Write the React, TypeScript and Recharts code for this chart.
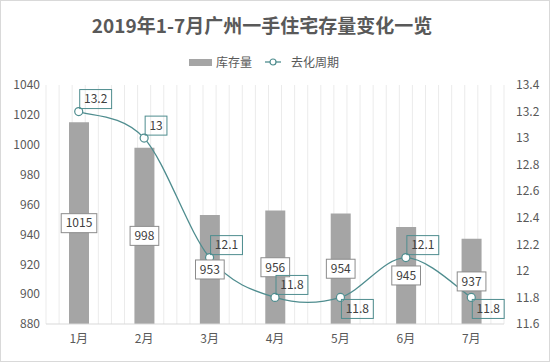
import React from 'react';
import { ComposedChart, Bar, Line, XAxis, YAxis, CartesianGrid, LabelList } from 'recharts';

const months = ['1月', '2月', '3月', '4月', '5月', '6月', '7月'];
const inventory = [1015, 998, 953, 956, 954, 945, 937];
const cycle = [13.2, 13, 12.1, 11.8, 11.8, 12.1, 11.8];
const leftTicks = [880, 900, 920, 940, 960, 980, 1000, 1020, 1040];
const rightTicks = [11.6, 11.8, 12, 12.2, 12.4, 12.6, 12.8, 13, 13.2, 13.4];

const data = months.map((m, i) => ({ month: m, inventory: inventory[i], cycle: cycle[i] }));

const FONT = '"Noto Sans CJK SC", "Noto Sans", sans-serif';
const BAR_COLOR = '#a5a5a5';
const LINE_COLOR = '#4f8d8f';
const TEXT_COLOR = '#595959';

// labels of these points sit below-right of the dot instead of above-right
const LABEL_BELOW = [4, 6];

// Excel style smooth line (catmull-rom as bezier)
const excelCurve = (context: any) => {
  let pts: number[][] = [];
  return {
    areaStart() {},
    areaEnd() {},
    lineStart() { pts = []; },
    point(x: number, y: number) { pts.push([+x, +y]); },
    lineEnd() {
      if (!pts.length) return;
      context.moveTo(pts[0][0], pts[0][1]);
      for (let i = 0; i < pts.length - 1; i++) {
        const p0 = pts[Math.max(i - 1, 0)];
        const p1 = pts[i];
        const p2 = pts[i + 1];
        const p3 = pts[Math.min(i + 2, pts.length - 1)];
        context.bezierCurveTo(
          p1[0] + (p2[0] - p0[0]) / 6, p1[1] + (p2[1] - p0[1]) / 6,
          p2[0] - (p3[0] - p1[0]) / 6, p2[1] - (p3[1] - p1[1]) / 6,
          p2[0], p2[1]
        );
      }
    },
  };
};

const textWidth = (s: string) => {
  let w = 0;
  for (const c of s) w += c === '.' ? 3.2 : 6.9;
  return w;
};

const getBox = (props: any) => {
  const vb = props.viewBox || {};
  return {
    x: props.x ?? vb.x,
    y: props.y ?? vb.y,
    width: props.width ?? vb.width ?? 0,
    height: props.height ?? vb.height ?? 0,
  };
};

const BarValueLabel = (props: any) => {
  const { x, y, width, height } = getBox(props);
  const text = String(props.value);
  const w = textWidth(text) + 8;
  const h = 19;
  const cx = x + width / 2;
  const cy = y + height / 2;
  return (
    <g>
      <rect x={cx - w / 2} y={cy - h / 2} width={w} height={h} fill="#fff" stroke="#8c8c8c" strokeWidth={1} />
      <text x={cx} y={cy} dy="0.36em" textAnchor="middle" fontSize={12} fill="#404040" fontFamily={FONT}>{text}</text>
    </g>
  );
};

const LineValueLabel = (props: any) => {
  const { x, y } = getBox(props);
  const text = String(props.value);
  const w = textWidth(text) + 8;
  const h = 19;
  const below = LABEL_BELOW.includes(props.index);
  const left = x + 1;
  const top = below ? y + 2 : y - 3 - h;
  return (
    <g>
      <rect x={left} y={top} width={w} height={h} fill="none" stroke={LINE_COLOR} strokeWidth={1} />
      <text x={left + w / 2} y={top + h / 2} dy="0.36em" textAnchor="middle" fontSize={12} fill="#404040" fontFamily={FONT}>{text}</text>
    </g>
  );
};

const App: React.FC = () => {
  return (
    <div style={{ position: 'absolute', left: 0, top: 0, width: 550, height: 362, background: '#fff', fontFamily: FONT }}>
      <div style={{ position: 'absolute', left: 0, top: 11, width: 524, textAlign: 'center', fontSize: 19, fontWeight: 'bold', color: TEXT_COLOR, lineHeight: '28px' }}>
        2019年1-7月广州一手住宅存量变化一览
      </div>
      <div style={{ position: 'absolute', left: 0, top: 53, width: 528, display: 'flex', justifyContent: 'center', alignItems: 'center', fontSize: 12, color: TEXT_COLOR, lineHeight: '18px' }}>
        <span style={{ display: 'inline-block', width: 23, height: 7, background: BAR_COLOR, marginRight: 4 }} />
        <span>库存量</span>
        <svg width={16} height={10} style={{ marginLeft: 13, marginRight: 10 }}>
          <line x1={0} y1={5} x2={16} y2={5} stroke={LINE_COLOR} strokeWidth={1.3} />
          <circle cx={8} cy={5} r={3} fill="#fff" stroke={LINE_COLOR} strokeWidth={1.2} />
        </svg>
        <span>去化周期</span>
      </div>
      <div style={{ position: 'absolute', left: 0, top: 0 }}>
        <ComposedChart width={550} height={362} data={data} margin={{ top: 85, right: 0, bottom: 0, left: 0 }}>
          <CartesianGrid
            horizontal={false}
            stroke="#ebebeb"
            verticalCoordinatesGenerator={({ offset }: any) =>
              Array.from({ length: 36 }, (_, i) => offset.left + (i * offset.width) / 35)
            }
          />
          <XAxis
            dataKey="month"
            height={38}
            axisLine={{ stroke: '#d9d9d9' }}
            tickLine={false}
            tickSize={0}
            tickMargin={10}
            tick={{ fill: TEXT_COLOR, fontSize: 12, fontFamily: FONT }}
          />
          <YAxis
            yAxisId="left"
            width={46}
            domain={[880, 1040]}
            ticks={leftTicks}
            axisLine={false}
            tickLine={false}
            tickSize={0}
            tickMargin={6}
            tick={{ fill: TEXT_COLOR, fontSize: 12, fontFamily: FONT }}
          />
          <YAxis
            yAxisId="right"
            orientation="right"
            width={46}
            domain={[11.6, 13.4]}
            ticks={rightTicks}
            axisLine={false}
            tickLine={false}
            tickSize={0}
            tickMargin={12}
            tickFormatter={(v: number) => String(Number(v.toFixed(1)))}
            tick={{ fill: TEXT_COLOR, fontSize: 12, fontFamily: FONT, textAnchor: 'start' }}
          />
          <Bar yAxisId="left" dataKey="inventory" fill={BAR_COLOR} barSize={20} isAnimationActive={false}>
            <LabelList dataKey="inventory" content={BarValueLabel} />
          </Bar>
          <Line
            yAxisId="right"
            dataKey="cycle"
            type={excelCurve as any}
            stroke={LINE_COLOR}
            strokeWidth={1.3}
            dot={{ r: 4, fill: '#fff', stroke: LINE_COLOR, strokeWidth: 1.2 }}
            isAnimationActive={false}
          >
            <LabelList dataKey="cycle" content={LineValueLabel} />
          </Line>
        </ComposedChart>
      </div>
      <div style={{ position: 'absolute', left: 0, top: 0, width: 550, height: 362, boxSizing: 'border-box', border: '1px solid #d9d9d9', pointerEvents: 'none' }} />
    </div>
  );
};

export default App;
